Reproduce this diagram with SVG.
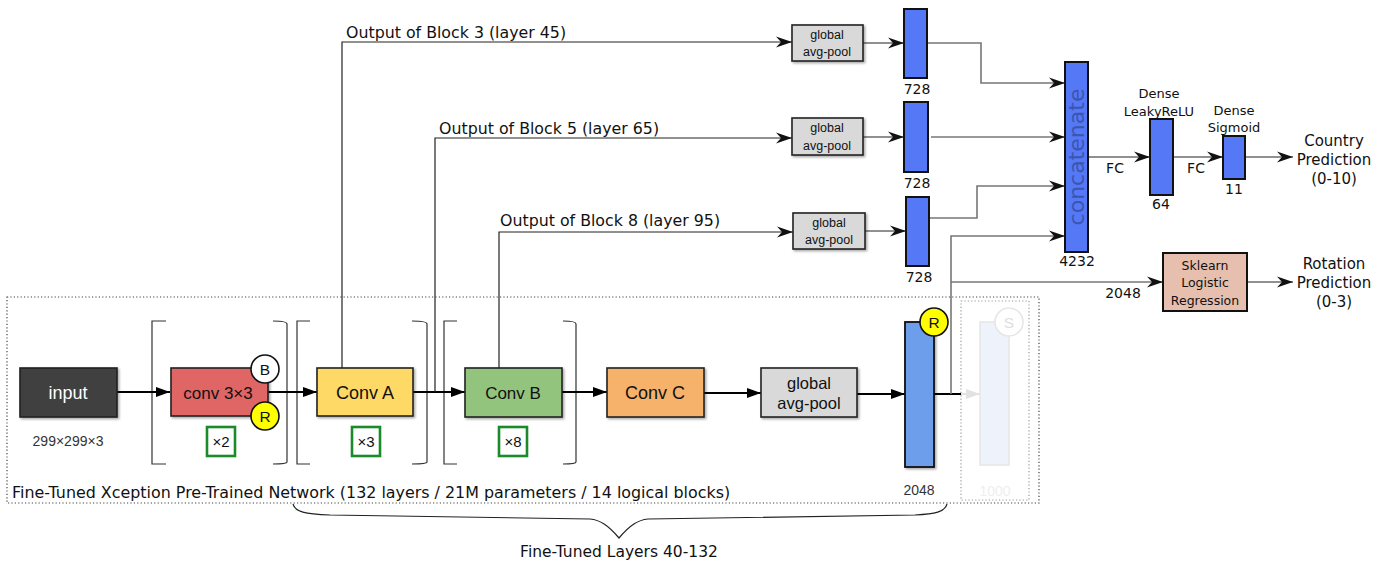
<svg xmlns="http://www.w3.org/2000/svg" width="1381" height="565" viewBox="0 0 1381 565">
<style>
.sans{font-family:"Liberation Sans",Arial,sans-serif}
.dv{font-family:"DejaVu Sans",Verdana,sans-serif}
.box{stroke:#222;stroke-width:1.6}
.bar{fill:#5578f6;stroke:#111;stroke-width:2}
.main{stroke:#000;stroke-width:2;fill:none}
.thin{stroke:#222;stroke-width:1.2;fill:none}
.gray{stroke:#777;stroke-width:1.6;fill:none}
.brk{stroke:#333;stroke-width:1.2;fill:none}
.mult{fill:#fff;stroke:#1a8a2a;stroke-width:2.6}
</style>
<defs>
<filter id="sh" x="-10%" y="-10%" width="130%" height="140%">
<feDropShadow dx="1.5" dy="1.5" stdDeviation="1.2" flood-color="#000" flood-opacity="0.35"/>
</filter>
<marker id="ab" markerUnits="userSpaceOnUse" markerWidth="14" markerHeight="12" viewBox="0 0 14 12" refX="14" refY="6" orient="auto">
<path d="M0,1 L14,6 L0,11 z" fill="#000"/>
</marker>
<marker id="as" markerUnits="userSpaceOnUse" markerWidth="16" markerHeight="12" viewBox="0 0 16 12" refX="16" refY="6" orient="auto">
<path d="M0,0.5 L16,6 L0,11.5 L5,6 z" fill="#111"/>
</marker>
<marker id="af" markerUnits="userSpaceOnUse" markerWidth="14" markerHeight="12" viewBox="0 0 14 12" refX="14" refY="6" orient="auto">
<path d="M0,1 L14,6 L0,11 z" fill="#e2e2e2"/>
</marker>
</defs>
<rect width="1381" height="565" fill="#fff"/>

<!-- outer dotted frame -->
<g id="frame">
<rect x="7" y="297" width="1032" height="206" fill="none" stroke="#444" stroke-width="1.2" stroke-dasharray="1.2,2.2"/>
<rect x="961" y="301" width="68" height="199" fill="none" stroke="#999" stroke-width="1.2" stroke-dasharray="1.2,2.2"/>
<text class="dv" x="12" y="498" font-size="15.9" fill="#111">Fine-Tuned Xception Pre-Trained Network (132 layers / 21M parameters / 14 logical blocks)</text>
</g>

<!-- brackets -->
<g id="brackets">
<path class="brk" d="M166,321 L152,321 L152,464 L166,464"/>
<path class="brk" d="M273,321 Q287,321 287,324 L287,462 Q287,464 273,464"/>
<path class="brk" d="M310,321 L297,321 L297,464 L310,464"/>
<path class="brk" d="M412,321 Q427,321 427,324 L427,462 Q427,464 412,464"/>
<path class="brk" d="M457,321 L444,321 L444,464 L457,464"/>
<path class="brk" d="M563,321 Q576,321 576,324 L576,462 Q576,464 563,464"/>
</g>

<!-- connectors -->
<g id="connectors">
<line class="main" x1="117" y1="392" x2="170" y2="392" marker-end="url(#ab)"/>
<line class="main" x1="268" y1="392" x2="317" y2="392" marker-end="url(#ab)"/>
<line class="main" x1="413" y1="392" x2="465" y2="392" marker-end="url(#ab)"/>
<line class="main" x1="562" y1="392" x2="607" y2="392" marker-end="url(#ab)"/>
<line class="main" x1="704" y1="393" x2="761" y2="393" marker-end="url(#ab)"/>
<line class="main" x1="857" y1="394" x2="905" y2="394" marker-end="url(#ab)"/>
<line class="main" x1="934" y1="394" x2="961" y2="394"/>
<line x1="961" y1="394" x2="980" y2="394" stroke="#e2e2e2" stroke-width="2" marker-end="url(#af)"/>

<path class="thin" d="M342,368 L342,42 L792,42" marker-end="url(#as)"/>
<path class="thin" d="M435,392 L435,138 L792,138" stroke="#555" marker-end="url(#as)"/>
<path class="thin" d="M499,368 L499,232 L793,232" marker-end="url(#as)"/>

<line class="thin" x1="863" y1="43" x2="904" y2="43" marker-end="url(#as)"/>
<line class="thin" x1="863" y1="137" x2="904" y2="137" marker-end="url(#as)"/>
<line class="thin" x1="865" y1="231" x2="906" y2="231" marker-end="url(#as)"/>

<path class="gray" d="M927,43 L981,43 L981,83 L1065,83" marker-end="url(#as)"/>
<path class="gray" d="M931,137 L1065,137" marker-end="url(#as)"/>
<path class="gray" d="M929,218 L977,218 L977,186 L1065,186" marker-end="url(#as)"/>
<path class="gray" d="M951,394 L951,236 L1065,236" marker-end="url(#as)"/>
<path class="gray" d="M951,282 L1163,282" marker-end="url(#as)"/>

<line class="thin" x1="1088" y1="157" x2="1150" y2="157" marker-end="url(#as)"/>
<line class="thin" x1="1173" y1="157" x2="1223" y2="157" marker-end="url(#as)"/>
<line class="thin" x1="1245" y1="157" x2="1293" y2="157" marker-end="url(#as)"/>
<line class="thin" x1="1247" y1="282" x2="1293" y2="282" marker-end="url(#as)"/>

<path d="M293,504 C295,512 305,514 330,515 L590,519 C600,520 608,525 619,538 C630,525 638,520 648,519 L915,515 C935,514 945,512 947,504" fill="none" stroke="#222" stroke-width="1.2"/>
</g>

<!-- connector labels -->
<g id="labels" class="dv" fill="#111">
<text x="346" y="38" font-size="15.8">Output of Block 3 (layer 45)</text>
<text x="439" y="134" font-size="15.8">Output of Block 5 (layer 65)</text>
<text x="500" y="226" font-size="15.8">Output of Block 8 (layer 95)</text>
<text x="1115" y="173" font-size="14" text-anchor="middle">FC</text>
<text x="1196" y="173" font-size="14" text-anchor="middle">FC</text>
<text x="1123" y="298" font-size="14" text-anchor="middle">2048</text>
<text x="619" y="557" font-size="15.5" text-anchor="middle">Fine-Tuned Layers 40-132</text>
</g>

<g id="input">
<rect x="20" y="368" width="97" height="49" fill="#404040" class="box" filter="url(#sh)"/>
<text class="sans" x="68" y="399" font-size="18" fill="#fff" text-anchor="middle">input</text>
<text class="sans" x="68" y="446" font-size="14" fill="#333" text-anchor="middle">299×299×3</text>
</g>

<g id="conv3x3">
<rect x="171" y="368" width="97" height="48" fill="#e06666" class="box" filter="url(#sh)"/>
<text class="sans" x="218" y="399" font-size="17" fill="#111" text-anchor="middle">conv 3×3</text>
<circle cx="265" cy="369" r="14" fill="#fff" stroke="#111" stroke-width="1.6"/>
<text class="sans" x="265" y="375" font-size="15.5" text-anchor="middle" fill="#111">B</text>
<circle cx="265" cy="416" r="14" fill="#ffff00" stroke="#111" stroke-width="1.6"/>
<text class="sans" x="265" y="422" font-size="15.5" text-anchor="middle" fill="#111">R</text>
<rect x="207" y="427" width="28" height="29" class="mult"/>
<text class="sans" x="221" y="447" font-size="15" text-anchor="middle" fill="#111">×2</text>
</g>

<g id="convA">
<rect x="317" y="368" width="96" height="48" fill="#ffd966" class="box" filter="url(#sh)"/>
<text class="sans" x="365" y="399" font-size="18" fill="#111" text-anchor="middle">Conv A</text>
<rect x="352" y="427" width="28" height="29" class="mult"/>
<text class="sans" x="366" y="447" font-size="15" text-anchor="middle" fill="#111">×3</text>
</g>

<g id="convB">
<rect x="465" y="368" width="97" height="49" fill="#93c47d" class="box" filter="url(#sh)"/>
<text class="sans" x="513" y="399" font-size="17" fill="#111" text-anchor="middle">Conv B</text>
<rect x="499" y="427" width="28" height="29" class="mult"/>
<text class="sans" x="513" y="447" font-size="15" text-anchor="middle" fill="#111">×8</text>
</g>

<g id="convC">
<rect x="607" y="368" width="97" height="49" fill="#f6b26b" class="box" filter="url(#sh)"/>
<text class="sans" x="655" y="399" font-size="18" fill="#111" text-anchor="middle">Conv C</text>
</g>

<g id="gap">
<rect x="761" y="368" width="96" height="49" fill="#d9d9d9" class="box" filter="url(#sh)"/>
<text class="sans" x="809" y="389" font-size="16.5" fill="#111" text-anchor="middle">global</text>
<text class="sans" x="809" y="409" font-size="16.5" fill="#111" text-anchor="middle">avg-pool</text>
</g>

<g id="feat2048">
<rect x="905" y="322" width="29" height="145" fill="#6d9eeb" stroke="#111" stroke-width="1.8" filter="url(#sh)"/>
<circle cx="934" cy="322" r="14" fill="#ffff00" stroke="#111" stroke-width="1.6"/>
<text class="sans" x="934" y="328" font-size="15.5" text-anchor="middle" fill="#111">R</text>
<text class="sans" x="919" y="495" font-size="14" text-anchor="middle" fill="#333">2048</text>
</g>

<g id="softmax1000">
<rect x="980" y="322" width="29" height="143" fill="#eef3fb" stroke="#e6e6e6" stroke-width="1.6"/>
<circle cx="1009" cy="322" r="14" fill="#fff" stroke="#e6e6e6" stroke-width="1.6"/>
<text class="sans" x="1009" y="328" font-size="15.5" text-anchor="middle" fill="#dedede">S</text>
<text class="sans" x="995" y="496" font-size="14" text-anchor="middle" fill="#eeeeee">1000</text>
</g>

<g id="gap1">
<rect x="792" y="25" width="71" height="36" fill="#d9d9d9" class="box" stroke-width="1.3" filter="url(#sh)"/>
<text class="sans" x="827" y="39" font-size="12.5" fill="#111" text-anchor="middle">global</text>
<text class="sans" x="827" y="56" font-size="12.5" fill="#111" text-anchor="middle">avg-pool</text>
</g>
<g id="gap2">
<rect x="792" y="118" width="71" height="37" fill="#d9d9d9" class="box" stroke-width="1.3" filter="url(#sh)"/>
<text class="sans" x="827" y="132" font-size="12.5" fill="#111" text-anchor="middle">global</text>
<text class="sans" x="827" y="150" font-size="12.5" fill="#111" text-anchor="middle">avg-pool</text>
</g>
<g id="gap3">
<rect x="793" y="213" width="72" height="36" fill="#d9d9d9" class="box" stroke-width="1.3" filter="url(#sh)"/>
<text class="sans" x="829" y="227" font-size="12.5" fill="#111" text-anchor="middle">global</text>
<text class="sans" x="829" y="244" font-size="12.5" fill="#111" text-anchor="middle">avg-pool</text>
</g>

<g id="f728a">
<rect x="904" y="9" width="23" height="69" class="bar"/>
<text class="dv" x="917" y="94" font-size="14" text-anchor="middle" fill="#111">728</text>
</g>
<g id="f728b">
<rect x="904" y="102" width="24" height="70" class="bar"/>
<text class="dv" x="917" y="188" font-size="14" text-anchor="middle" fill="#111">728</text>
</g>
<g id="f728c">
<rect x="906" y="197" width="23" height="69" class="bar"/>
<text class="dv" x="919" y="282" font-size="14" text-anchor="middle" fill="#111">728</text>
</g>

<g id="concat">
<rect x="1065" y="62" width="23" height="190" class="bar"/>
<text class="dv" x="0" y="0" font-size="22" fill="#3b55b0" text-anchor="middle" transform="translate(1084,157) rotate(-90)">concatenate</text>
<text class="dv" x="1077" y="266" font-size="14" text-anchor="middle" fill="#111">4232</text>
</g>

<g id="dense64">
<rect x="1150" y="119" width="23" height="76" class="bar"/>
<text class="dv" x="1159" y="98" font-size="13" text-anchor="middle" fill="#111">Dense</text>
<text class="dv" x="1159" y="116" font-size="13" text-anchor="middle" fill="#111">LeakyReLU</text>
<text class="dv" x="1161" y="209" font-size="14" text-anchor="middle" fill="#111">64</text>
</g>

<g id="dense11">
<rect x="1223" y="136" width="22" height="43" class="bar"/>
<text class="dv" x="1234" y="115" font-size="13" text-anchor="middle" fill="#111">Dense</text>
<text class="dv" x="1234" y="132" font-size="13" text-anchor="middle" fill="#111">Sigmoid</text>
<text class="dv" x="1234" y="194" font-size="14" text-anchor="middle" fill="#111">11</text>
</g>

<g id="country">
<text class="dv" x="1334" y="146" font-size="15" text-anchor="middle" fill="#111">Country</text>
<text class="dv" x="1334" y="165" font-size="15" text-anchor="middle" fill="#111">Prediction</text>
<text class="dv" x="1334" y="184" font-size="15" text-anchor="middle" fill="#111">(0-10)</text>
</g>

<g id="sklearn">
<rect x="1163" y="253" width="84" height="58" fill="#e6bfae" stroke="#111" stroke-width="2"/>
<text class="dv" x="1205" y="270" font-size="12.5" text-anchor="middle" fill="#111">Sklearn</text>
<text class="dv" x="1205" y="287" font-size="12.5" text-anchor="middle" fill="#111">Logistic</text>
<text class="dv" x="1205" y="305" font-size="12.5" text-anchor="middle" fill="#111">Regression</text>
</g>

<g id="rotation">
<text class="dv" x="1334" y="269" font-size="15" text-anchor="middle" fill="#111">Rotation</text>
<text class="dv" x="1334" y="288" font-size="15" text-anchor="middle" fill="#111">Prediction</text>
<text class="dv" x="1334" y="307" font-size="15" text-anchor="middle" fill="#111">(0-3)</text>
</g>
</svg>
